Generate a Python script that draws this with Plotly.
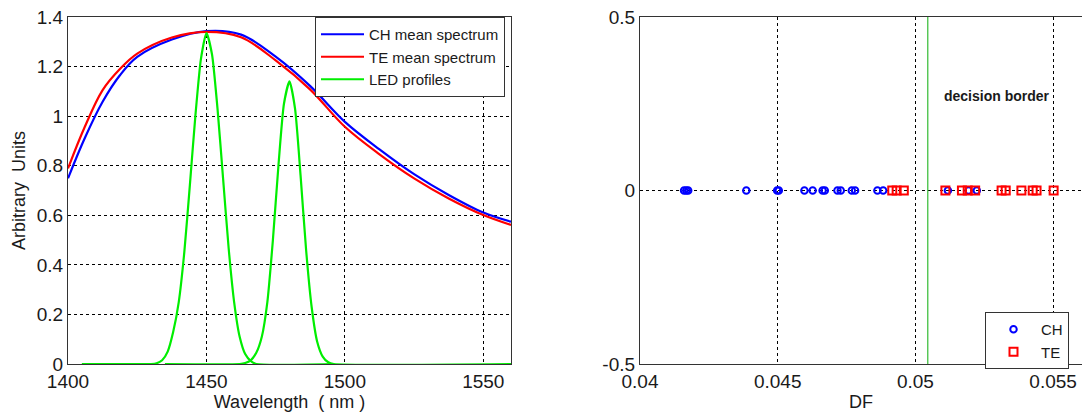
import plotly.graph_objects as go

# ---------------- Left panel data ----------------
wl = [1400, 1406, 1412.5, 1418.75, 1425, 1437.5, 1450, 1462.5, 1475, 1487.5,
      1500, 1512.5, 1525, 1537.5, 1550, 1560]
ch_mean = [0.749, 0.910, 1.058, 1.165, 1.239, 1.309, 1.343, 1.329, 1.240, 1.121,
           0.977, 0.866, 0.766, 0.682, 0.611, 0.574]
te_mean = [0.789, 0.955, 1.105, 1.190, 1.252, 1.317, 1.340, 1.318, 1.225, 1.107,
           0.957, 0.846, 0.749, 0.668, 0.601, 0.561]

led1_wl = [1405, 1430, 1432, 1434, 1436, 1438, 1440, 1442, 1444, 1446, 1448, 1450,
           1452, 1454, 1456, 1458, 1460, 1462, 1464, 1466, 1468, 1495]
led1_val = [0, 0, 0.003, 0.015, 0.05, 0.13, 0.25, 0.45, 0.72, 1.0, 1.23, 1.335,
            1.25, 1.03, 0.75, 0.47, 0.25, 0.11, 0.04, 0.012, 0, 0]
led2_wl = [1435, 1462, 1464, 1466, 1468, 1470, 1472, 1474, 1476, 1478, 1480, 1482, 1484,
           1486, 1488, 1490, 1492, 1494, 1496, 1560]
led2_val = [0, 0, 0.004, 0.015, 0.045, 0.11, 0.25, 0.50, 0.80, 1.05, 1.14, 1.03, 0.76,
            0.46, 0.23, 0.09, 0.03, 0.007, 0, 0]

left_xticks = [1400, 1450, 1500, 1550]
left_yticks = [0, 0.2, 0.4, 0.6, 0.8, 1.0, 1.2, 1.4]
left_yticklabels = ["0", "0.2", "0.4", "0.6", "0.8", "1", "1.2", "1.4"]

# ---------------- Right panel data ----------------
df_ch = [0.04160, 0.04168, 0.04175, 0.04386, 0.04498, 0.04504, 0.04597, 0.04627,
         0.04663, 0.04671, 0.04717, 0.04729, 0.04769, 0.04781, 0.04862, 0.04883,
         0.05118, 0.05193, 0.05223]
df_te = [0.04916, 0.04932, 0.04958, 0.05109, 0.05169, 0.05190, 0.05217,
         0.05313, 0.05328, 0.05385, 0.05426, 0.05440, 0.05502]
decision_border = 0.05045
right_xticks = [0.04, 0.045, 0.05, 0.055]
right_xticklabels = ["0.04", "0.045", "0.05", "0.055"]
right_yticks = [-0.5, 0, 0.5]
right_yticklabels = ["-0.5", "0", "0.5"]

W, H = 1082, 414
FONT = "Liberation Sans, Arial, sans-serif"
TXT = "#1a1a1a"

fig = go.Figure()

fig.add_trace(go.Scatter(x=wl, y=ch_mean, mode="lines", name="CH mean spectrum",
                         line=dict(color="#0000ff", width=2.2, shape="spline"),
                         xaxis="x", yaxis="y", legend="legend"))
fig.add_trace(go.Scatter(x=wl, y=te_mean, mode="lines", name="TE mean spectrum",
                         line=dict(color="#ff0000", width=2.2, shape="spline"),
                         xaxis="x", yaxis="y", legend="legend"))
fig.add_trace(go.Scatter(x=led1_wl, y=led1_val, mode="lines", name="LED profiles",
                         line=dict(color="#00ee00", width=2.2, shape="spline", smoothing=0.6),
                         legendgroup="led", xaxis="x", yaxis="y", legend="legend"))
fig.add_trace(go.Scatter(x=led2_wl, y=led2_val, mode="lines", name="LED profiles",
                         line=dict(color="#00ee00", width=2.2, shape="spline", smoothing=0.6),
                         legendgroup="led", showlegend=False, xaxis="x", yaxis="y"))

fig.add_trace(go.Scatter(x=[decision_border, decision_border], y=[-0.5, 0.5], mode="lines",
                         line=dict(color="#33bb33", width=1.2), showlegend=False,
                         xaxis="x2", yaxis="y2"))
fig.add_trace(go.Scatter(x=df_ch, y=[0] * len(df_ch), mode="markers", name="CH",
                         marker=dict(symbol="circle-open", size=6.5, color="#0000ff",
                                     line=dict(width=2, color="#0000ff")),
                         xaxis="x2", yaxis="y2", legend="legend2"))
fig.add_trace(go.Scatter(x=df_te, y=[0] * len(df_te), mode="markers", name="TE",
                         marker=dict(symbol="square-open", size=8, color="#ff0000",
                                     line=dict(width=2, color="#ff0000")),
                         xaxis="x2", yaxis="y2", legend="legend2"))

grid = dict(showgrid=True, gridcolor="#000000", gridwidth=1, griddash="3px,3px",
            showline=True, linecolor="#333333", linewidth=1.2, mirror=True,
            zeroline=False, ticks="", automargin=False,
            tickfont=dict(family=FONT, size=19, color=TXT))

fig.update_layout(
    width=W, height=H, margin=dict(l=0, r=0, t=0, b=0, autoexpand=False),
    paper_bgcolor="white", plot_bgcolor="white",
    font=dict(family=FONT, color=TXT),
    xaxis=dict(domain=[68 / W, 511 / W], range=[1400, 1560], tickvals=left_xticks,
               title=dict(text="Wavelength  ( nm )", font=dict(size=18, color=TXT), standoff=4),
               anchor="y", **grid),
    yaxis=dict(domain=[50 / H, 397 / H], range=[0, 1.4], tickvals=left_yticks,
               ticktext=left_yticklabels,
               title=dict(text="Arbitrary  Units", font=dict(size=18, color=TXT), standoff=6),
               anchor="x", **grid),
    xaxis2=dict(domain=[640 / W, 1.0], range=[0.04, 0.05605], tickvals=right_xticks,
                ticktext=right_xticklabels,
                title=dict(text="DF", font=dict(size=18, color=TXT), standoff=4),
                anchor="y2", **grid),
    yaxis2=dict(domain=[50 / H, 397 / H], range=[-0.5, 0.5], tickvals=right_yticks,
                ticktext=right_yticklabels, anchor="x2", **grid),
    legend=dict(x=315 / W, y=1 - 17 / H, xanchor="left", yanchor="top",
                bgcolor="white", bordercolor="#333333", borderwidth=1,
                font=dict(family=FONT, size=15, color=TXT), tracegroupgap=0,
                itemwidth=43),
    legend2=dict(x=985 / W, y=1 - 312 / H, xanchor="left", yanchor="top",
                 bgcolor="white", bordercolor="#333333", borderwidth=1,
                 font=dict(family=FONT, size=15, color=TXT), tracegroupgap=0,
                 itemwidth=45),
    annotations=[dict(x=0.05296, y=0.2727, xref="x2", yref="y2", text="<b>decision border</b>",
                      showarrow=False, font=dict(family=FONT, size=14, color=TXT))],
)

fig.write_html("out.html")
